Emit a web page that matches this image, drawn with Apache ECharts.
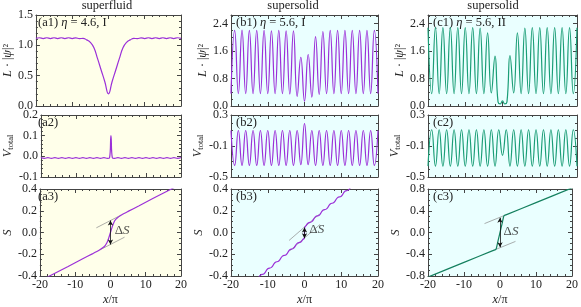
<!DOCTYPE html>
<html><head><meta charset="utf-8">
<script src="https://cdn.jsdelivr.net/npm/echarts@6/dist/echarts.min.js"></script>
<style>html,body{margin:0;padding:0;background:#fff}#c{width:581px;height:307px}</style>
</head><body><div id="c"></div>
<script>
// ---------- data ----------
const xGrid = [-20,-19,-18,-17,-16,-15,-14,-13,-12,-11,-10,-9,-8,-7,-6,-5,-4,-3,-2,-1,0,1,2,3,4,5,6,7,8,9,10,11,12,13,14,15,16,17,18,19,20];

// (a1) density, superfluid
const a1Y = [1.115,1.125,1.112,1.125,1.112,1.125,1.112,1.125,1.112,1.125,1.112,1.124,1.11,1.115,1.09,1.05,0.96,0.78,0.59,0.40,0.20,0.40,0.59,0.78,0.96,1.05,1.09,1.115,1.11,1.124,1.112,1.125,1.112,1.125,1.112,1.125,1.112,1.125,1.112,1.125,1.115];
// (b1) density, supersolid I
const b1Y = [0.36,2.20,0.36,2.21,0.36,2.20,0.36,2.20,0.36,2.20,0.36,2.19,0.36,2.20,0.36,2.19,0.35,2.19,0.28,1.42,0.14,1.50,0.26,2.02,0.34,2.17,0.36,2.20,0.36,2.20,0.36,2.20,0.36,2.20,0.36,2.20,0.36,2.20,0.36,2.20,0.36];
// (c1) density, supersolid II
const c1X = [-20,-19,-18,-17,-16,-15,-14,-13,-12,-11,-10,-9,-8,-7,-6,-5,-4,-3,-2,-1.2,-0.6,0,0.6,1.2,2,3,4,5,6,7,8,9,10,11,12,13,14,15,16,17,18,19,20];
const c1Y = [2.28,0.36,2.28,0.36,2.28,0.36,2.28,0.36,2.28,0.36,2.28,0.36,2.28,0.36,2.27,0.36,2.13,0.38,1.45,0.12,0.06,0.15,0.06,0.12,1.47,0.38,2.13,0.36,2.27,0.36,2.28,0.36,2.28,0.36,2.28,0.36,2.28,0.36,2.28,0.36,2.28,0.36,2.28];

// (a2) V_total, superfluid
const a2X = [-20,-19,-18,-17,-16,-15,-14,-13,-12,-11,-10,-9,-8,-7,-6,-5,-4,-3,-2,-1,-0.4,0,0.4,1,2,3,4,5,6,7,8,9,10,11,12,13,14,15,16,17,18,19,20];
const a2Y = [-0.006,-0.010,-0.006,-0.010,-0.006,-0.010,-0.006,-0.010,-0.006,-0.010,-0.006,-0.010,-0.006,-0.010,-0.006,-0.010,-0.006,-0.010,-0.006,-0.010,-0.007,0.10,-0.007,-0.010,-0.006,-0.010,-0.006,-0.010,-0.006,-0.010,-0.006,-0.010,-0.006,-0.010,-0.006,-0.010,-0.006,-0.010,-0.006,-0.010,-0.006,-0.010,-0.006];
// (b2) V_total, supersolid I
const b2Y = [0.10,-0.35,0.10,-0.35,0.10,-0.35,0.10,-0.35,0.10,-0.35,0.10,-0.35,0.10,-0.35,0.10,-0.35,0.10,-0.35,0.10,-0.34,0.19,-0.34,0.10,-0.35,0.10,-0.35,0.10,-0.35,0.10,-0.35,0.10,-0.35,0.10,-0.35,0.10,-0.35,0.10,-0.35,0.10,-0.35,0.10];
// (c2) V_total, supersolid II
const c2Y = [-0.36,0.11,-0.36,0.11,-0.36,0.11,-0.36,0.11,-0.36,0.11,-0.36,0.11,-0.36,0.11,-0.36,0.11,-0.36,0.11,-0.36,0.11,-0.22,0.11,-0.36,0.11,-0.36,0.11,-0.36,0.11,-0.36,0.11,-0.36,0.11,-0.36,0.11,-0.36,0.11,-0.36,0.11,-0.36,0.11,-0.36];

// (a3) S, superfluid
const a3X = [-20,-17,-12,-8,-5,-4,-3,-2,-1.5,-1,-0.5,0,0.5,1,1.5,2,3,4,5,8,12,17,20];
const a3Y = [-0.446,-0.396,-0.312,-0.244,-0.194,-0.177,-0.158,-0.136,-0.12,-0.095,-0.052,0,0.052,0.095,0.12,0.136,0.158,0.177,0.194,0.244,0.312,0.396,0.446];
// (b3) S, supersolid I
const b3X = [-14,-13,-12,-11,-10,-9,-8,-7,-6,-5,-4,-3,-2,-1,-0.4,-0.05,0.05,0.4,1,2,3,4,5,6,7,8,9,10,11,12,13,14];
const b3Y = [-0.451,-0.438,-0.392,-0.379,-0.334,-0.321,-0.276,-0.262,-0.217,-0.204,-0.159,-0.146,-0.100,-0.087,-0.062,-0.052,0.045,0.062,0.087,0.100,0.146,0.159,0.204,0.217,0.262,0.276,0.321,0.334,0.379,0.392,0.438,0.451];
// (c3) S, supersolid II
const c3X = [-20,-10,-2,-1.2,-1,-0.5,0,0.5,1,1.2,2,10,20];
const c3Y = [-0.82,-0.55,-0.334,-0.312,-0.29,-0.14,0,0.14,0.29,0.312,0.334,0.55,0.82];

// guide lines, arrows and ΔS label anchors (data coordinates)
const a3GuideUp = [[-4,0.043],[3,0.160]], a3GuideLo = [[-3,-0.160],[4,-0.043]], a3Arrow = [[0,0.11],[0,-0.11]], a3Label = [1.2,0.02];
const b3GuideUp = [[-4.2,-0.073],[4,0.167]], b3GuideLo = [[-4,-0.167],[4.2,0.073]], b3Arrow = [[0,0.045],[0,-0.052]], b3Label = [1.3,0.027];
const c3GuideUp = [[-4.3,0.164],[1,0.307]], c3GuideLo = [[-1,-0.307],[4.3,-0.164]], c3Arrow = [[0,0.27],[0,-0.27]], c3Label = [1.0,0.02];

const xTicks = [-20,20,10];
const colTitles = ['superfluid','supersolid','supersolid'];
const panelLabels = [['(a1) ','η',' = 4.6, I'],['(b1) ','η',' = 5.6, I'],['(c1) ','η',' = 5.6, II'],['(a2)','',''],['(b2)','',''],['(c2)','',''],['(a3)','',''],['(b3)','',''],['(c3)','','']];

// ---------- layout / styles ----------
const PURPLE = '#9b30d8', GREEN = '#1b9e77', GREEN_D = '#15805f';
const FONT = "'Liberation Serif','DejaVu Serif',serif";
const FS = 12.5;
const cols = [{left:33,width:148,bg:'#ffffea'},{left:231,width:147,bg:'#eaffff'},{left:428,width:149,bg:'#eaffff'}];
const rows = [{top:15,height:91},{top:115,height:62},{top:189,height:91}];
const yCfg = [
  [0,1.5,0.5,5],[0,2.65,0.8,4],[0,2.65,0.8,4],
  [-0.1,0.2,0.1,5],[-0.5,0.3,0.4,4],[-0.5,0.3,0.4,4],
  [-0.4,0.4,0.2,4],[-0.4,0.4,0.2,4],[-0.8,0.8,0.4,4]
];
const yNames = ['{i|L} · |{i|ψ}|²','{i|V}{s|total}','{i|S}'];

function pairs(X,Y){ return X.map((x,i)=>[x,Y[i]]); }

const grids=[], xAxes=[], yAxes=[], series=[], graphics=[];
const AX = '#444';
for (let r=0;r<3;r++) for (let c=0;c<3;c++){
  const p = r*3+c;
  grids.push({left:cols[c].left, width:cols[c].width, top:rows[r].top, height:rows[r].height, show:true, backgroundColor:cols[c].bg, borderWidth:0, containLabel:false});
  for (const top of [false,true]){
    xAxes.push({
      type:'value', gridIndex:p, position: top?'top':'bottom', min:xTicks[0], max:xTicks[1], interval:xTicks[2],
      axisLine:{show:true,onZero:false,lineStyle:{color:AX,width:1}},
      axisTick:{show:true,inside:true,length:4,lineStyle:{color:AX}},
      minorTick:{show:true,splitNumber:5,length:2,lineStyle:{color:AX}},
      splitLine:{show:false},
      axisLabel:{show:(!top && r===2), margin:3, fontFamily:FONT, fontSize:12, color:'#222', formatter:v=>String(Math.round(v))},
      name:(!top && r===2)?'{i|x}/π':'', nameLocation:'middle', nameGap:17,
      nameTextStyle:{fontFamily:FONT,fontSize:12,color:'#222',rich:{i:{fontStyle:'italic',fontFamily:FONT,fontSize:12.5,color:'#222'}}}
    });
  }
  const [mn,mx,iv,ns] = yCfg[p];
  for (const right of [false,true]){
    yAxes.push({
      type:'value', gridIndex:p, position: right?'right':'left', min:mn, max:mx, interval:iv,
      axisLine:{show:true,onZero:false,lineStyle:{color:AX,width:1}},
      axisTick:{show:true,inside:true,length:4,lineStyle:{color:AX}},
      minorTick:{show:true,splitNumber:ns,length:2,lineStyle:{color:AX}},
      splitLine:{show:false},
      axisLabel:{show:!right, margin:3, fontFamily:FONT, fontSize:12, color:'#222',
        formatter:v=>{const k=(v-mn)/iv; return Math.abs(k-Math.round(k))<1e-6 ? v.toFixed(1).replace('-0.0','0.0') : '';}},
      name: right?'':yNames[r], nameLocation:'middle', nameGap:20,
      nameTextStyle:{fontFamily:FONT,fontSize:12,color:'#222',rich:{
        i:{fontStyle:'italic',fontFamily:FONT,fontSize:12.5,color:'#222'},
        s:{fontFamily:FONT,fontSize:8.5,color:'#222',verticalAlign:'bottom',padding:[6,0,0,0]}}}
    });
  }
  // panel label
  const L = panelLabels[p];
  graphics.push({type:'text', x:cols[c].left+5, y:rows[r].top+8, style:{
    text: L[1] ? L[0]+'{i|'+L[1]+'}'+L[2] : L[0],
    font:FS+'px '+FONT, fill:'#222', textVerticalAlign:'middle', verticalAlign:'middle',
    rich:{i:{fontStyle:'italic',fontFamily:FONT,fontSize:FS,fill:'#222',color:'#222'}}}});
}
// column titles
const titleX = [107,293,493];
for (let c=0;c<3;c++) graphics.push({type:'text', x:titleX[c], y:6, style:{text:colTitles[c], font:FS+'px '+FONT, fill:'#222', textAlign:'center', align:'center', textVerticalAlign:'middle', verticalAlign:'middle'}});

function lineSeries(p, data, color, smooth, width){
  return {type:'line', xAxisIndex:2*p, yAxisIndex:2*p, data, showSymbol:false, symbol:'none', smooth:smooth, clip:true,
    lineStyle:{color, width:width||1.2}, itemStyle:{color}, z:3, animation:false, silent:true};
}
series.push(lineSeries(0, pairs(xGrid,a1Y), PURPLE, 0.5));
series.push(lineSeries(1, pairs(xGrid,b1Y), PURPLE, 0.5));
series.push(lineSeries(2, pairs(c1X,c1Y), GREEN, 0.5));
series.push(lineSeries(3, pairs(a2X,a2Y), PURPLE, 0.5));
series.push(lineSeries(4, pairs(xGrid,b2Y), PURPLE, 0.5));
series.push(lineSeries(5, pairs(xGrid,c2Y), GREEN, 0.5));
series.push(lineSeries(6, pairs(a3X,a3Y), PURPLE, 0.3));
series.push(lineSeries(7, pairs(b3X,b3Y), PURPLE, 0.5));
series.push(lineSeries(8, pairs(c3X,c3Y), GREEN_D, 0.2));

function decor(p, up, lo, arrow, lab){
  const g = {type:'line', xAxisIndex:2*p, yAxisIndex:2*p, showSymbol:false, symbol:'none', z:2, animation:false, silent:true, lineStyle:{color:'#8a8a8a',width:0.7}};
  series.push(Object.assign({}, g, {data:up}));
  series.push(Object.assign({}, g, {data:lo,
    markLine:{silent:true, animation:false, symbol:['arrow','arrow'], symbolSize:[4,5], label:{show:false},
      lineStyle:{color:'#111',width:0.8,type:'solid'}, data:[[{coord:arrow[0]},{coord:arrow[1]}]]}}));
  series.push({type:'scatter', xAxisIndex:2*p, yAxisIndex:2*p, data:[lab], symbolSize:0, z:4, animation:false, silent:true,
    label:{show:true, position:'right', distance:0, formatter:'Δ{i|S}', fontFamily:FONT, fontSize:13, color:'#222',
      rich:{i:{fontStyle:'italic',fontFamily:FONT,fontSize:13,color:'#222'}}}});
}
decor(6, a3GuideUp, a3GuideLo, a3Arrow, a3Label);
decor(7, b3GuideUp, b3GuideLo, b3Arrow, b3Label);
decor(8, c3GuideUp, c3GuideLo, c3Arrow, c3Label);

const chart = echarts.init(document.getElementById('c'), null, {renderer:'canvas', width:581, height:307});
chart.setOption({animation:false, backgroundColor:'#fff', grid:grids, xAxis:xAxes, yAxis:yAxes, series, graphic:graphics});
</script></body></html>
